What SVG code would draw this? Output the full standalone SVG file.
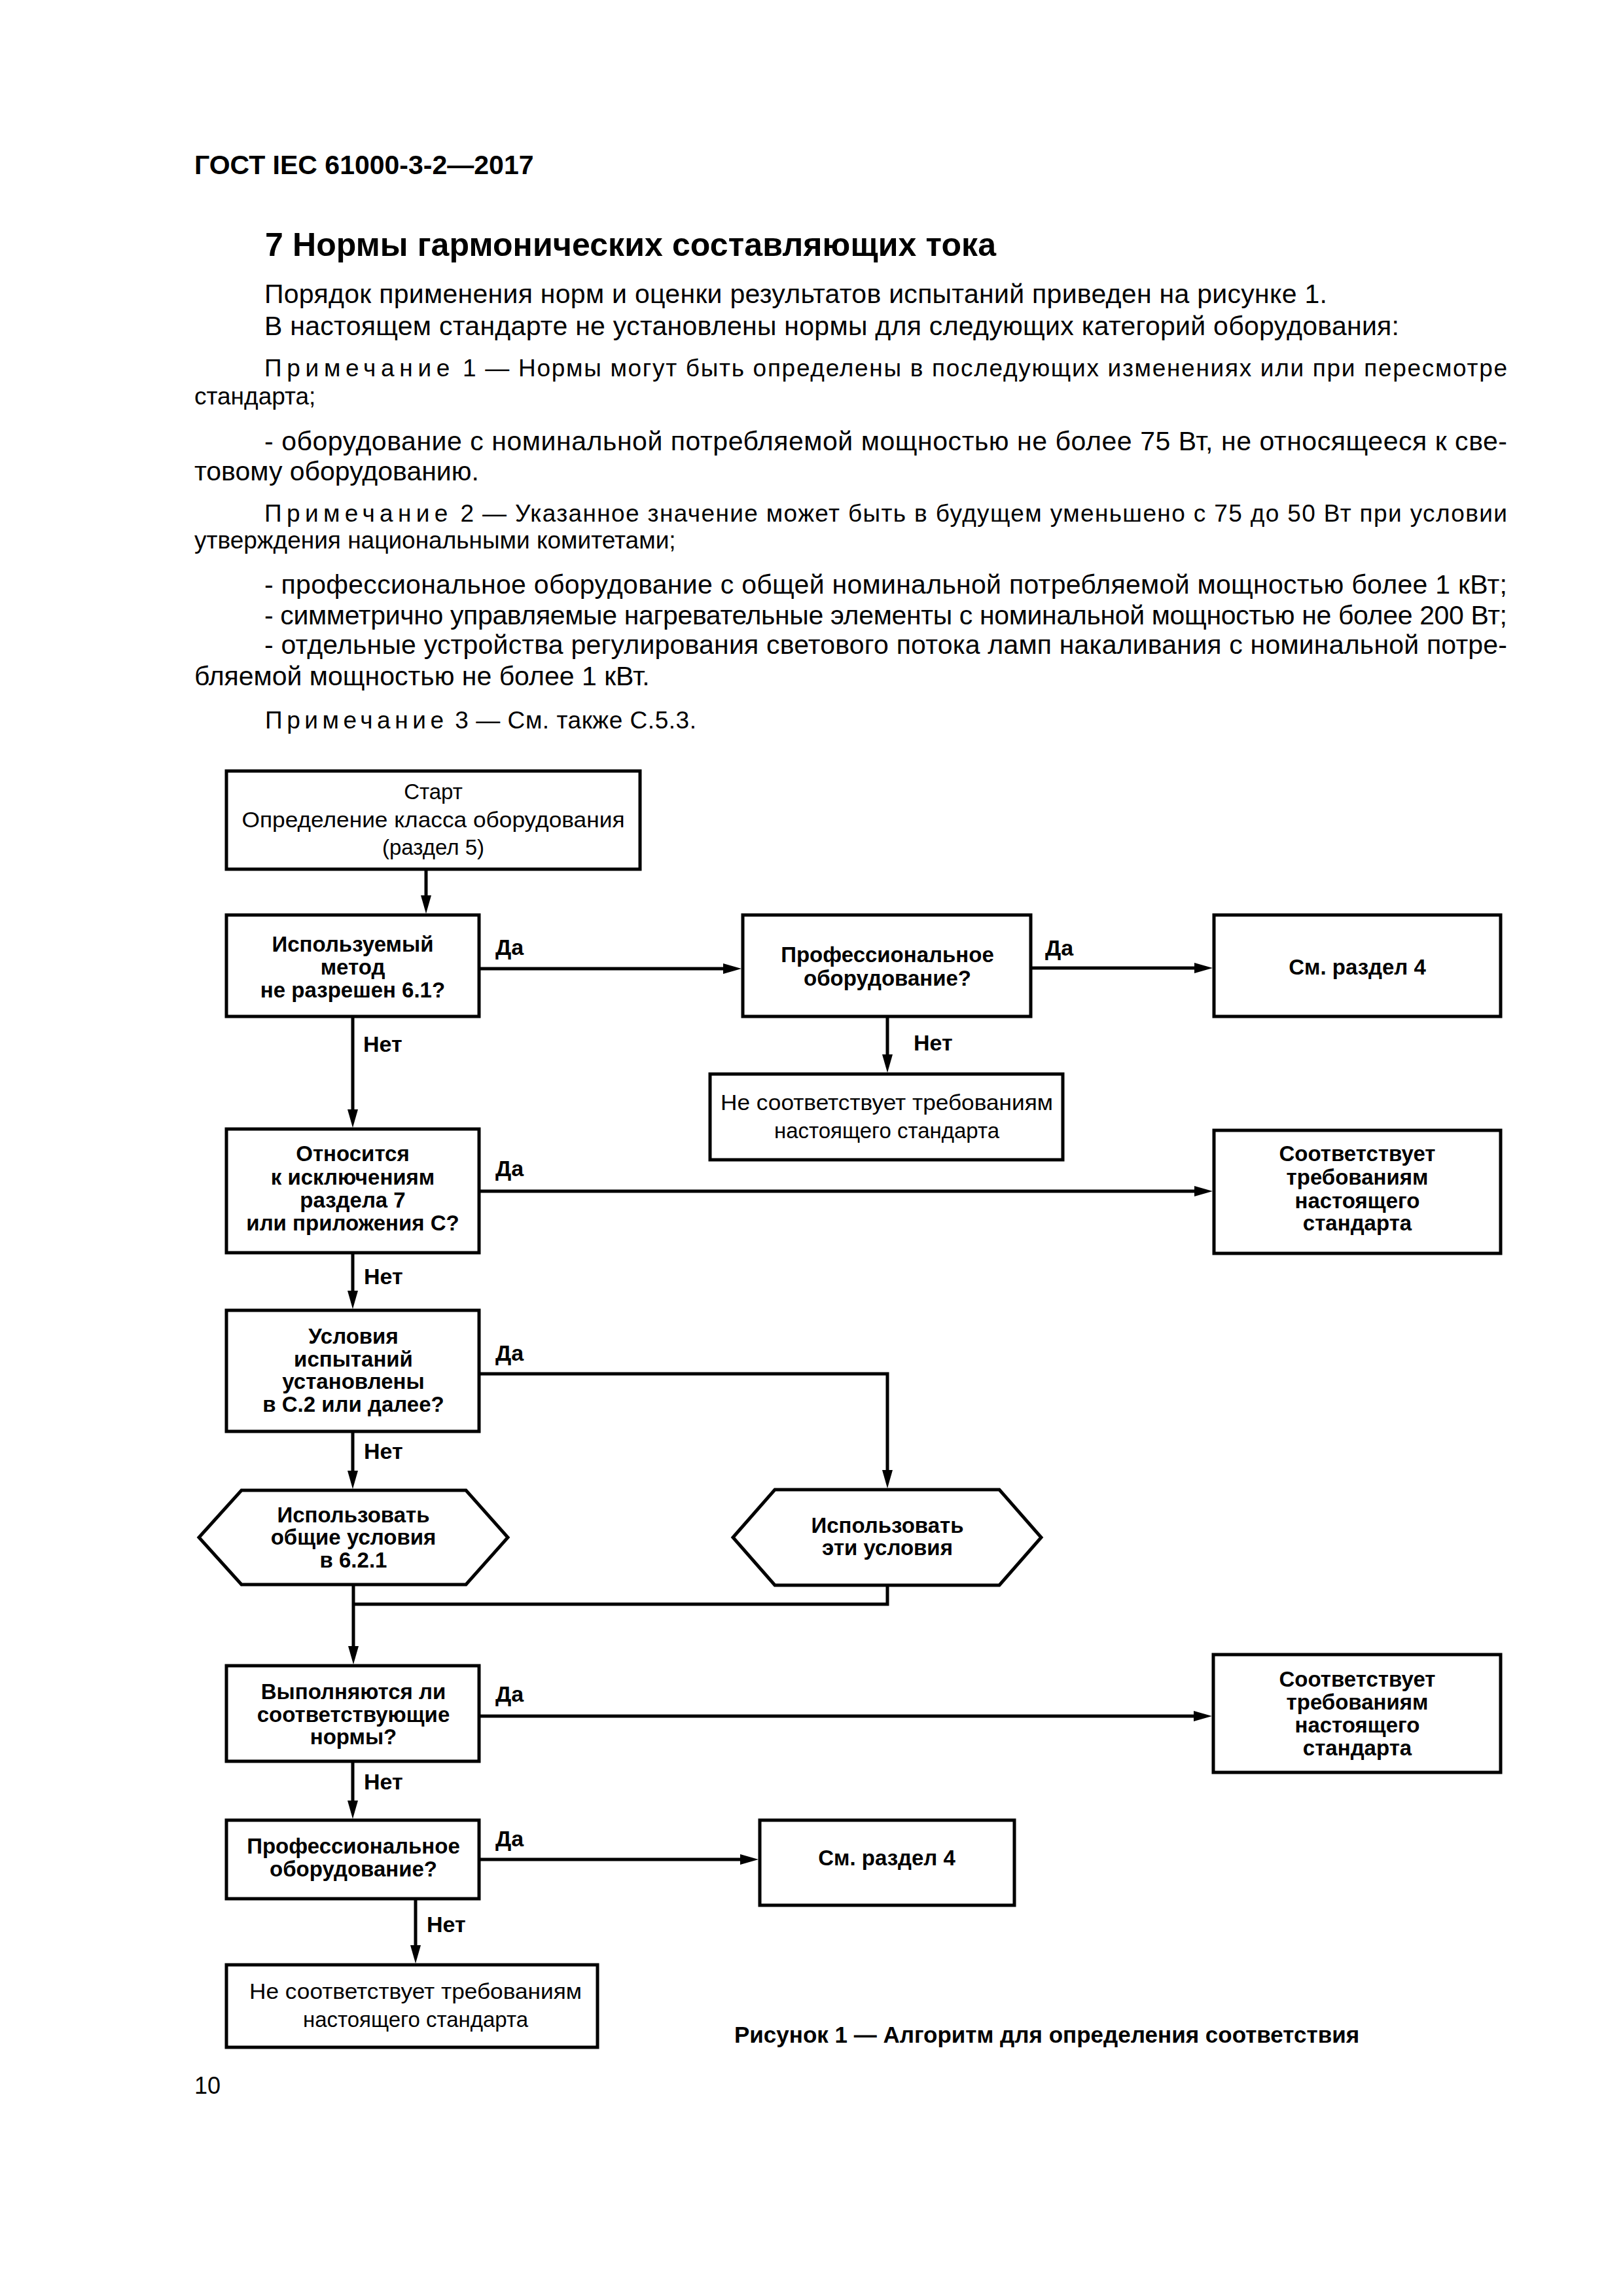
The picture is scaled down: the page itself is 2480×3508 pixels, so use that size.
<svg xmlns="http://www.w3.org/2000/svg" width="2480" height="3508" viewBox="0 0 2480 3508">
<defs>
<style>
.t{font-family:"Liberation Sans",Arial,Helvetica,sans-serif;fill:#000}
.b{font-weight:bold}
.hd{font-size:41px;font-weight:bold}
.h1{font-size:50px;font-weight:bold}
.p{font-size:41px}
.nt{font-size:37px}
.sp{letter-spacing:6px}
.fr{font-size:33px}
.fb{font-size:33px;font-weight:bold}
.lb{font-size:34px;font-weight:bold}
.c{text-anchor:middle}
.box{fill:#fff;stroke:#000;stroke-width:5}
.ln{fill:none;stroke:#000;stroke-width:5}
</style>
<marker id="ah" markerUnits="userSpaceOnUse" markerWidth="30" markerHeight="18" refX="18" refY="8" orient="auto">
<path d="M0,0 L28,8 L0,16 z" fill="#000"/>
</marker>
</defs>
<rect width="2480" height="3508" fill="#fff"/>

<g id="page-text" class="t">
<text class="hd" x="297" y="266">ГОСТ IEC 61000-3-2—2017</text>
<text class="h1" x="405" y="391" textLength="1117" lengthAdjust="spacing">7  Нормы гармонических составляющих тока</text>
<text class="p" x="404" y="463" textLength="1624" lengthAdjust="spacing">Порядок применения норм и оценки результатов испытаний приведен на рисунке 1.</text>
<text class="p" x="404" y="512" textLength="1734" lengthAdjust="spacing">В настоящем стандарте не установлены нормы для следующих категорий оборудования:</text>
<text class="nt" x="404" y="575" textLength="1899" lengthAdjust="spacing"><tspan class="sp">Примечание</tspan> 1 — Нормы могут быть определены в последующих изменениях или при пересмотре</text>
<text class="nt" x="297" y="618">стандарта;</text>
<text class="p" x="404" y="688" textLength="1899" lengthAdjust="spacing">- оборудование с номинальной потребляемой мощностью не более 75 Вт, не относящееся к све-</text>
<text class="p" x="297" y="734">товому оборудованию.</text>
<text class="nt" x="404" y="797" textLength="1899" lengthAdjust="spacing"><tspan class="sp">Примечание</tspan> 2 — Указанное значение может быть в будущем уменьшено с 75 до 50 Вт при условии</text>
<text class="nt" x="297" y="838">утверждения национальными комитетами;</text>
<text class="p" x="404" y="907" textLength="1899" lengthAdjust="spacing">- профессиональное оборудование с общей номинальной потребляемой мощностью более 1 кВт;</text>
<text class="p" x="404" y="954" textLength="1899" lengthAdjust="spacing">- симметрично управляемые нагревательные элементы с номинальной мощностью не более 200 Вт;</text>
<text class="p" x="404" y="999" textLength="1899" lengthAdjust="spacing">- отдельные устройства регулирования светового потока ламп накаливания с номинальной потре-</text>
<text class="p" x="297" y="1047">бляемой мощностью не более 1 кВт.</text>
<text class="nt" x="405" y="1113" textLength="659" lengthAdjust="spacing"><tspan class="sp">Примечание</tspan> 3 — См. также С.5.3.</text>
<text class="b" x="1122" y="3121" style="font-size:35px">Рисунок 1 — Алгоритм для определения соответствия</text>
<text x="297" y="3199" style="font-size:36px">10</text>
</g>

<g id="connectors" class="ln">
<path d="M651,1330 V1386" marker-end="url(#ah)"/>
<path d="M734,1480 H1123" marker-end="url(#ah)"/>
<path d="M1577,1479 H1843" marker-end="url(#ah)"/>
<path d="M1356,1555 V1629" marker-end="url(#ah)"/>
<path d="M539,1555 V1713" marker-end="url(#ah)"/>
<path d="M734,1820 H1843" marker-end="url(#ah)"/>
<path d="M539,1916 V1990" marker-end="url(#ah)"/>
<path d="M734,2099 H1356 V2264" marker-end="url(#ah)"/>
<path d="M539,2189 V2265" marker-end="url(#ah)"/>
<path d="M540,2423 V2533" marker-end="url(#ah)"/>
<path d="M1356,2424 V2451 H540"/>
<path d="M734,2622 H1842" marker-end="url(#ah)"/>
<path d="M539,2693 V2769" marker-end="url(#ah)"/>
<path d="M734,2841 H1149" marker-end="url(#ah)"/>
<path d="M635,2903 V2990" marker-end="url(#ah)"/>
</g>

<g id="edge-labels" class="t lb">
<text x="757" y="1459">Да</text>
<text x="1597" y="1460">Да</text>
<text x="1396" y="1605">Нет</text>
<text x="555" y="1607">Нет</text>
<text x="757" y="1797">Да</text>
<text x="556" y="1962">Нет</text>
<text x="757" y="2079">Да</text>
<text x="556" y="2229">Нет</text>
<text x="757" y="2600">Да</text>
<text x="556" y="2734">Нет</text>
<text x="757" y="2821">Да</text>
<text x="652" y="2952">Нет</text>
</g>

<g id="n-start">
<rect class="box" x="346" y="1178" width="632" height="150"/>
<text class="t fr c" x="662" y="1221">Старт</text>
<text class="t fr c" x="662" y="1264" textLength="585" lengthAdjust="spacingAndGlyphs">Определение класса оборудования</text>
<text class="t fr c" x="662" y="1306">(раздел 5)</text>
</g>

<g id="n-method">
<rect class="box" x="346" y="1398" width="386" height="155"/>
<text class="t fb c" x="539" y="1454">Используемый</text>
<text class="t fb c" x="539" y="1489">метод</text>
<text class="t fb c" x="539" y="1524">не разрешен 6.1?</text>
</g>

<g id="n-prof1">
<rect class="box" x="1135" y="1398" width="440" height="155"/>
<text class="t fb c" x="1356" y="1470">Профессиональное</text>
<text class="t fb c" x="1356" y="1506">оборудование?</text>
</g>

<g id="n-sec4a">
<rect class="box" x="1855" y="1398" width="438" height="155"/>
<text class="t fb c" x="2074" y="1489">См. раздел 4</text>
</g>

<g id="n-noncomp1">
<rect class="box" x="1085" y="1641" width="539" height="131"/>
<text class="t fr c" x="1355" y="1696" textLength="508" lengthAdjust="spacingAndGlyphs">Не соответствует требованиям</text>
<text class="t fr c" x="1355" y="1739">настоящего стандарта</text>
</g>

<g id="n-except">
<rect class="box" x="346" y="1725" width="386" height="189"/>
<text class="t fb c" x="539" y="1774">Относится</text>
<text class="t fb c" x="539" y="1810">к исключениям</text>
<text class="t fb c" x="539" y="1845">раздела 7</text>
<text class="t fb c" x="539" y="1880">или приложения С?</text>
</g>

<g id="n-comp1">
<rect class="box" x="1855" y="1727" width="438" height="188"/>
<text class="t fb c" x="2074" y="1774">Соответствует</text>
<text class="t fb c" x="2074" y="1810">требованиям</text>
<text class="t fb c" x="2074" y="1846">настоящего</text>
<text class="t fb c" x="2074" y="1880">стандарта</text>
</g>

<g id="n-conditions">
<rect class="box" x="346" y="2002" width="386" height="185"/>
<text class="t fb c" x="540" y="2053">Условия</text>
<text class="t fb c" x="540" y="2088">испытаний</text>
<text class="t fb c" x="540" y="2122">установлены</text>
<text class="t fb c" x="540" y="2157">в С.2 или далее?</text>
</g>

<g id="n-general">
<polygon class="box" points="304,2349 369,2277 712,2277 776,2349 712,2421 369,2421"/>
<text class="t fb c" x="540" y="2326">Использовать</text>
<text class="t fb c" x="540" y="2360">общие условия</text>
<text class="t fb c" x="540" y="2395">в 6.2.1</text>
</g>

<g id="n-these">
<polygon class="box" points="1120,2349 1184,2276 1527,2276 1591,2349 1527,2422 1184,2422"/>
<text class="t fb c" x="1356" y="2342">Использовать</text>
<text class="t fb c" x="1356" y="2376">эти условия</text>
</g>

<g id="n-limits">
<rect class="box" x="346" y="2545" width="386" height="146"/>
<text class="t fb c" x="540" y="2596">Выполняются ли</text>
<text class="t fb c" x="540" y="2631">соответствующие</text>
<text class="t fb c" x="540" y="2665">нормы?</text>
</g>

<g id="n-comp2">
<rect class="box" x="1854" y="2528" width="439" height="180"/>
<text class="t fb c" x="2074" y="2577">Соответствует</text>
<text class="t fb c" x="2074" y="2612">требованиям</text>
<text class="t fb c" x="2074" y="2647">настоящего</text>
<text class="t fb c" x="2074" y="2682">стандарта</text>
</g>

<g id="n-prof2">
<rect class="box" x="346" y="2781" width="386" height="120"/>
<text class="t fb c" x="540" y="2832">Профессиональное</text>
<text class="t fb c" x="540" y="2867">оборудование?</text>
</g>

<g id="n-sec4b">
<rect class="box" x="1161" y="2781" width="389" height="130"/>
<text class="t fb c" x="1355" y="2850">См. раздел 4</text>
</g>

<g id="n-noncomp2">
<rect class="box" x="346" y="3002" width="567" height="126"/>
<text class="t fr c" x="635" y="3054" textLength="508" lengthAdjust="spacingAndGlyphs">Не соответствует требованиям</text>
<text class="t fr c" x="635" y="3097">настоящего стандарта</text>
</g>
</svg>
